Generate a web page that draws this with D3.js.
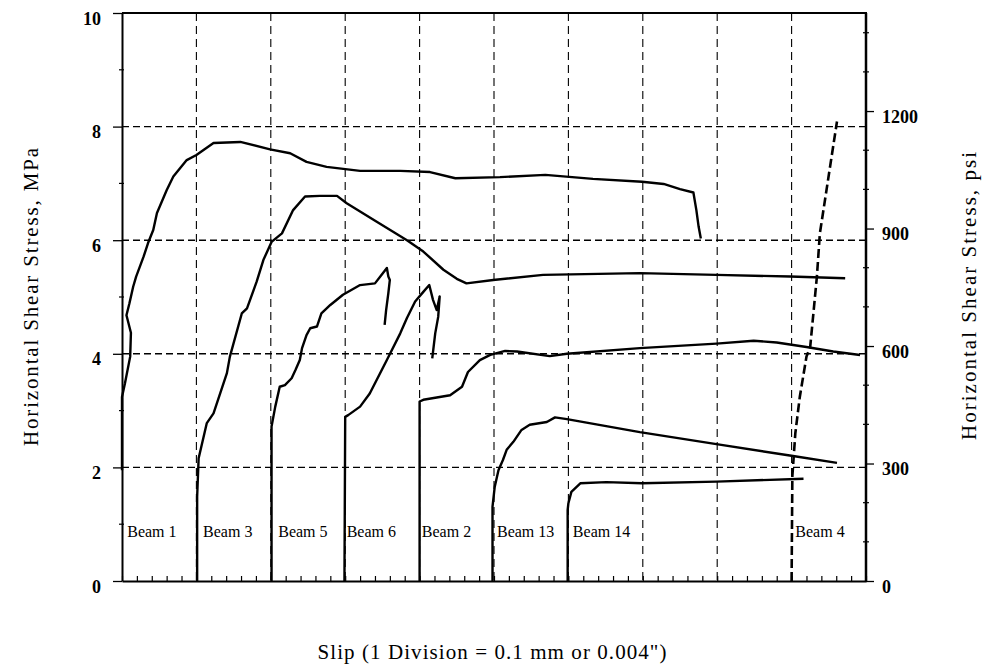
<!DOCTYPE html>
<html>
<head>
<meta charset="utf-8">
<script src="https://cdn.jsdelivr.net/npm/d3@7"></script>
<style>
  body { margin: 0; background: #fff; }
  text { font-family: "Liberation Serif", "DejaVu Serif", serif; fill: #000; }
</style>
</head>
<body>
<script>
//Slip in divisions (0..10 major grid divisions), stress in MPa
var beam1 = [[0,1.95],[0,3.24],[0.04,3.48],[0.11,3.95],[0.12,4.37],[0.06,4.68],[0.10,4.89],[0.15,5.18],
             [0.19,5.36],[0.29,5.71],[0.35,5.95],[0.42,6.18],[0.47,6.48],[0.60,6.88],[0.69,7.12],[0.87,7.41],
             [1.00,7.50],[1.23,7.71],[1.59,7.73],[1.99,7.60],[2.26,7.53],[2.48,7.38],[2.75,7.29],[3.20,7.22],
             [3.74,7.22],[4.14,7.20],[4.48,7.09],[5.08,7.11],[5.69,7.15],[6.33,7.08],[6.99,7.03],[7.28,6.99],
             [7.50,6.90],[7.68,6.84],[7.72,6.53],[7.75,6.24],[7.78,6.03]];
var beam3 = [[1.01,0],[1.01,1.48],[1.03,2.16],[1.14,2.78],[1.23,2.95],[1.41,3.66],[1.45,3.95],[1.61,4.71],
             [1.68,4.80],[1.81,5.27],[1.90,5.65],[2.01,5.97],[2.15,6.12],[2.30,6.53],[2.46,6.77],[2.66,6.78],
             [2.89,6.78],[3.02,6.65],[3.38,6.36],[3.83,6.00],[4.05,5.80],[4.32,5.48],[4.50,5.32],[4.63,5.24],
             [4.99,5.30],[5.66,5.39],[6.96,5.42],[7.99,5.39],[8.98,5.36],[9.72,5.33]];
var beam5 = [[2.01,0],[2.01,2.72],[2.06,3.07],[2.12,3.42],[2.19,3.45],[2.28,3.57],[2.33,3.71],[2.39,3.89],
             [2.42,4.10],[2.48,4.33],[2.53,4.45],[2.62,4.48],[2.68,4.71],[2.80,4.86],[2.97,5.04],[3.20,5.21],
             [3.40,5.24],[3.49,5.39],[3.56,5.51],[3.58,5.36],[3.60,5.30],[3.58,5.07],[3.55,4.77],[3.53,4.51]];
var beam6 = [[2.99,0],[3.00,2.89],[3.04,2.92],[3.20,3.07],[3.33,3.30],[3.56,3.89],[3.74,4.36],[3.83,4.63],
             [3.94,4.92],[4.05,5.09],[4.13,5.21],[4.18,4.95],[4.23,4.77],[4.27,5.01],[4.25,4.65],[4.21,4.36],
             [4.17,3.92]];
var beam2 = [[4.00,0],[4.00,3.16],[4.05,3.19],[4.41,3.27],[4.57,3.42],[4.65,3.68],[4.81,3.89],[4.95,3.98],
             [5.15,4.05],[5.31,4.04],[5.75,3.96],[5.98,4.00],[6.96,4.10],[7.99,4.18],[8.49,4.23],[8.80,4.20],
             [9.20,4.12],[9.56,4.04],[9.92,3.98]];
var beam13 = [[4.98,0],[4.98,1.31],[5.01,1.66],[5.06,1.95],[5.12,2.13],[5.17,2.31],[5.26,2.45],[5.37,2.66],
              [5.48,2.75],[5.71,2.80],[5.82,2.88],[5.98,2.85],[6.96,2.62],[7.99,2.41],[9.02,2.20],[9.61,2.08]];
var beam14 = [[5.99,0],[5.99,1.25],[6.00,1.37],[6.04,1.57],[6.16,1.72],[6.51,1.74],[6.99,1.72],[7.99,1.75],
              [9.16,1.80]];
var beam4 = [[9.00,0],[9.01,1.84],[9.05,2.60],[9.11,3.24],[9.20,3.95],[9.25,4.12],[9.34,5.36],[9.38,6.12],
             [9.61,8.09]];

var solidCurves = [beam1, beam3, beam5, beam6, beam2, beam13, beam14];

//Beam label names and the slip division where each label sits
var beamNames = ["Beam 1", "Beam 3", "Beam 5", "Beam 6", "Beam 2", "Beam 13", "Beam 14", "Beam 4"];
var beamLabelX = [0.07, 1.09, 2.10, 3.02, 4.03, 5.04, 6.06, 9.05];

//Ticks
var leftMajor = [0, 2, 4, 6, 8, 10];
var leftMinor = [1, 3, 5, 7, 9];
var rightMajor = [0, 300, 600, 900, 1200];
var rightMinor = [100, 200, 400, 500, 700, 800, 1000, 1100, 1300, 1400];
var gridX = [1, 2, 3, 4, 5, 6, 7, 8, 9];
var gridY = [2, 4, 6, 8];
var slipTicks = d3.range(0, 51).map(function(d) { return d / 5; });

//Width and height
var w = 988;
var h = 666;

//Plot box
var pLeft = 122, pRight = 866, pTop = 13, pBottom = 581;

var x = d3.scaleLinear().domain([0, 10]).range([pLeft, pRight]);
var y = d3.scaleLinear().domain([0, 10]).range([pBottom, pTop]);
var yPsi = d3.scaleLinear().domain([0, 10 * 145.038]).range([pBottom, pTop]);

var svg = d3.select("body")
            .append("svg")
            .attr("width", w)
            .attr("height", h);

//Dashed grid
svg.append("g")
   .selectAll("line")
   .data(gridY)
   .enter()
   .append("line")
   .attr("x1", pLeft).attr("x2", pRight)
   .attr("y1", function(d) { return y(d); })
   .attr("y2", function(d) { return y(d); })
   .attr("stroke", "#000")
   .attr("stroke-width", 1.4)
   .attr("stroke-dasharray", "7,4");

svg.append("g")
   .selectAll("line")
   .data(gridX)
   .enter()
   .append("line")
   .attr("y1", pTop).attr("y2", pBottom)
   .attr("x1", function(d) { return x(d); })
   .attr("x2", function(d) { return x(d); })
   .attr("stroke", "#000")
   .attr("stroke-width", 1.1)
   .attr("stroke-dasharray", "8,5");

//Bottom axis: small inward ticks every 0.2 division
svg.append("g")
   .attr("transform", "translate(0," + pBottom + ")")
   .call(d3.axisBottom(x).tickValues(slipTicks).tickSizeInner(-5).tickSizeOuter(0).tickFormat(""))
   .call(function(g) {
       g.select(".domain").attr("stroke-width", 2);
       g.selectAll(".tick line").attr("stroke-width", 1.2);
   });

//Left axis
svg.append("g")
   .attr("transform", "translate(" + pLeft + ",0)")
   .call(d3.axisLeft(y).tickValues(leftMajor).tickSizeInner(9).tickSizeOuter(0).tickPadding(12))
   .call(function(g) {
       g.select(".domain").attr("stroke-width", 2);
       g.selectAll(".tick line").attr("stroke-width", 1.3);
       g.selectAll(".tick text")
        .attr("font-family", "Liberation Serif")
        .attr("font-weight", "bold")
        .attr("font-size", 18)
        .attr("dy", "0.62em");
   });

svg.append("g")
   .selectAll("line")
   .data(leftMinor)
   .enter()
   .append("line")
   .attr("x1", pLeft - 3).attr("x2", pLeft + 2)
   .attr("y1", function(d) { return y(d); })
   .attr("y2", function(d) { return y(d); })
   .attr("stroke", "#000")
   .attr("stroke-width", 1.2);

//Right axis in psi
svg.append("g")
   .attr("transform", "translate(" + pRight + ",0)")
   .call(d3.axisRight(yPsi).tickValues(rightMajor).tickFormat(d3.format("d"))
           .tickSizeInner(8).tickSizeOuter(0).tickPadding(8))
   .call(function(g) {
       g.select(".domain").remove();
       g.selectAll(".tick line").attr("stroke-width", 1.3);
       g.selectAll(".tick text")
        .attr("font-family", "Liberation Serif")
        .attr("font-weight", "bold")
        .attr("font-size", 18)
        .attr("dy", "0.62em");
   });

svg.append("g")
   .selectAll("line")
   .data(rightMinor)
   .enter()
   .append("line")
   .attr("x1", pRight - 3).attr("x2", pRight + 3)
   .attr("y1", function(d) { return yPsi(d); })
   .attr("y2", function(d) { return yPsi(d); })
   .attr("stroke", "#000")
   .attr("stroke-width", 1.2);

//Frame top and right side
svg.append("line")
   .attr("x1", pLeft).attr("x2", pRight + 1)
   .attr("y1", pTop).attr("y2", pTop)
   .attr("stroke", "#000").attr("stroke-width", 2);
svg.append("line")
   .attr("x1", pRight).attr("x2", pRight)
   .attr("y1", pTop).attr("y2", pBottom + 1)
   .attr("stroke", "#000").attr("stroke-width", 2.5);

//Curves
var line = d3.line()
             .x(function(d) { return x(d[0]); })
             .y(function(d) { return y(d[1]); });

svg.append("g")
   .selectAll("path")
   .data(solidCurves)
   .enter()
   .append("path")
   .attr("d", line)
   .attr("fill", "none")
   .attr("stroke", "#000")
   .attr("stroke-width", 2.4)
   .attr("stroke-linejoin", "round");

svg.append("path")
   .datum(beam4)
   .attr("d", line)
   .attr("fill", "none")
   .attr("stroke", "#000")
   .attr("stroke-width", 2.6)
   .attr("stroke-dasharray", "9,4");

//Beam labels
svg.append("g")
   .selectAll("text")
   .data(beamNames)
   .enter()
   .append("text")
   .attr("x", function(d, i) { return x(beamLabelX[i]); })
   .attr("y", 537)
   .attr("font-size", 16)
   .text(function(d) { return d; });

//Axis titles
svg.append("text")
   .attr("transform", "translate(38,297) rotate(-90)")
   .attr("text-anchor", "middle")
   .attr("font-size", 21)
   .attr("textLength", 298)
   .attr("lengthAdjust", "spacing")
   .text("Horizontal Shear Stress, MPa");

svg.append("text")
   .attr("transform", "translate(976,296) rotate(-90)")
   .attr("text-anchor", "middle")
   .attr("font-size", 21)
   .attr("textLength", 288)
   .attr("lengthAdjust", "spacing")
   .text("Horizontal Shear Stress, psi");

svg.append("text")
   .attr("x", 492)
   .attr("y", 659)
   .attr("text-anchor", "middle")
   .attr("font-size", 21)
   .attr("textLength", 349)
   .attr("lengthAdjust", "spacing")
   .text("Slip (1 Division = 0.1 mm or 0.004\")");
</script>
</body>
</html>
